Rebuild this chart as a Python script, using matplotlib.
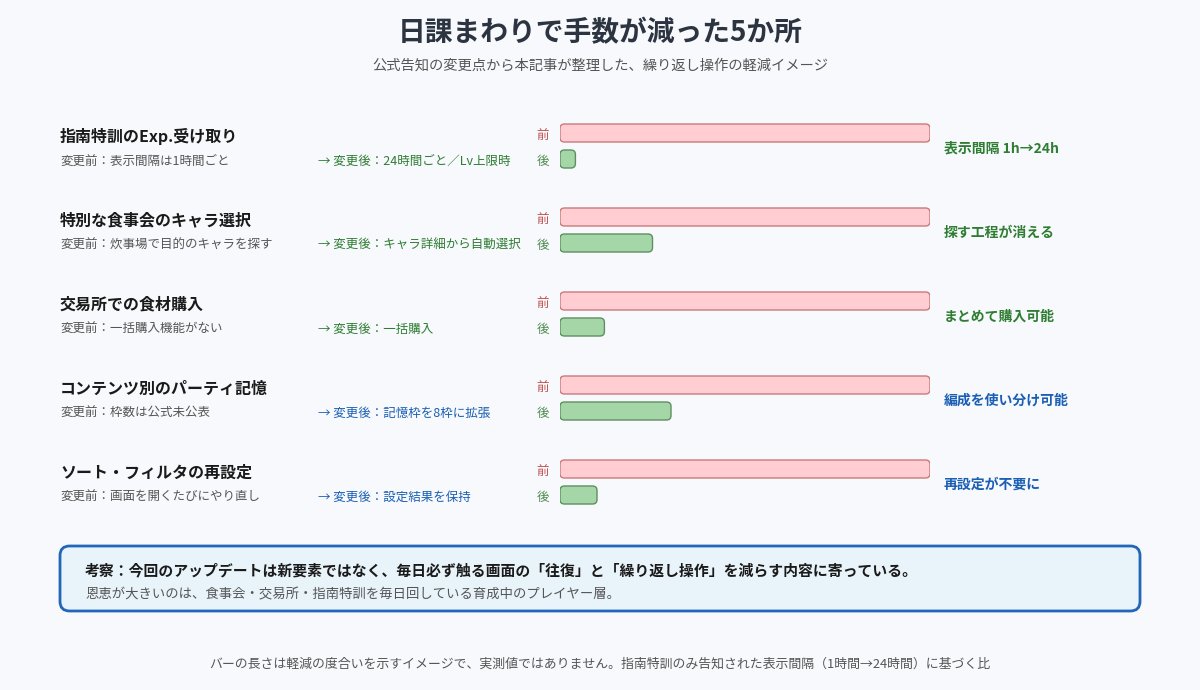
import numpy as np
import matplotlib
matplotlib.use('Agg')
import matplotlib.pyplot as plt
from matplotlib.patches import FancyBboxPatch
from matplotlib.transforms import blended_transform_factory

plt.rcParams['font.family'] = ['Noto Sans CJK JP', 'DejaVu Sans']

# ── データ ──
items = ['指南特訓のExp.受け取り', '特別な食事会のキャラ選択', '交易所での食材購入',
         'コンテンツ別のパーティ記憶', 'ソート・フィルタの再設定']
before_txt = ['変更前：表示間隔は1時間ごと', '変更前：炊事場で目的のキャラを探す',
              '変更前：一括購入機能がない', '変更前：枠数は公式未公表', '変更前：画面を開くたびにやり直し']
after_txt = ['→ 変更後：24時間ごと／Lv上限時', '→ 変更後：キャラ詳細から自動選択',
             '→ 変更後：一括購入', '→ 変更後：記憶枠を8枠に拡張', '→ 変更後：設定結果を保持']
effect = ['表示間隔 1h→24h', '探す工程が消える', 'まとめて購入可能', '編成を使い分け可能', '再設定が不要に']
kind = ['green', 'green', 'green', 'blue', 'blue']
before_val = [100, 100, 100, 100, 100]
after_val = [100 / 24, 25, 12, 30, 10]

BG = '#F7F9FC'
C_TXT = {'green': '#2E7D32', 'blue': '#1A5FB4'}

fig = plt.figure(figsize=(12, 6.9), dpi=100, facecolor=BG)
W, H = 1200, 690
# バー用の軸（x: 0-100, y: 行番号）
ax = fig.add_axes([560 / W, 1 - 520 / H, 370 / W, 410 / H])
ax.set_facecolor(BG)
ax.set_xlim(0, 100)
row0 = 146
ax.set_ylim((520 - row0) / 84, (110 - row0) / 84)
ax.axis('off')

off, bh = 13 / 84, 18 / 84
asp = (1 / 84) / (100 / 370)
for i in range(len(items)):
    for v, dy, fc, ec in [(before_val[i], -off, '#FFCDD2', '#C97B7B'),
                          (after_val[i], off, '#A5D6A7', '#5E8F60')]:
        p = FancyBboxPatch((0, i + dy - bh / 2), v, bh,
                           boxstyle='round,pad=0,rounding_size=1.2',
                           mutation_aspect=asp, fc=fc, ec=ec, lw=1.0)
        ax.add_patch(p)

tr = blended_transform_factory(fig.transFigure, ax.transData)
d = 2.5 / 84   # 文字の縦位置の微調整
for i in range(len(items)):
    ax.text(60 / W, i - off + 3.5 / 84, items[i], transform=tr, fontsize=11.5, fontweight='bold',
            color='#1A1A1A', va='center', ha='left')
    ax.text(60 / W, i + off + d, before_txt[i], transform=tr, fontsize=9, color='#555555',
            va='center', ha='left')
    ax.text(318 / W, i + off + d, after_txt[i], transform=tr, fontsize=9, color=C_TXT[kind[i]],
            va='center', ha='left')
    ax.text(549 / W, i - off + d, '前', transform=tr, fontsize=9, color='#C0504D',
            va='center', ha='right')
    ax.text(549 / W, i + off + d, '後', transform=tr, fontsize=9, color='#4F8A4F',
            va='center', ha='right')
    ax.text(944 / W, i + d, effect[i], transform=tr, fontsize=10, fontweight='bold',
            color=C_TXT[kind[i]], va='center', ha='left')

# タイトル
fig.text(0.5, 1 - 33.5 / H, '日課まわりで手数が減った5か所', ha='center', va='center',
         fontsize=20, fontweight='bold', color='#2B3440')
fig.text(0.5, 1 - 66 / H, '公式告知の変更点から本記事が整理した、繰り返し操作の軽減イメージ',
         ha='center', va='center', fontsize=10.3, color='#555555')

# 考察ボックス
box = FancyBboxPatch((60 / W, 1 - 611 / H), 1080 / W, 65 / H,
                     boxstyle='round,pad=0,rounding_size=0.008', mutation_aspect=W / H,
                     transform=fig.transFigure, fc='#E8F3FA', ec='#2166B8', lw=2)
fig.patches.append(box)
fig.text(85 / W, 1 - 570 / H,
         '考察：今回のアップデートは新要素ではなく、毎日必ず触る画面の「往復」と「繰り返し操作」を減らす内容に寄っている。',
         ha='left', va='center', fontsize=10.7, fontweight='bold', color='#1A1A1A')
fig.text(85 / W, 1 - 594 / H,
         '恩恵が大きいのは、食事会・交易所・指南特訓を毎日回している育成中のプレイヤー層。',
         ha='left', va='center', fontsize=9.6, color='#555555')

fig.text(0.5, 1 - 664 / H,
         'バーの長さは軽減の度合いを示すイメージで、実測値ではありません。指南特訓のみ告知された表示間隔（1時間→24時間）に基づく比',
         ha='center', va='center', fontsize=9.3, color='#555555')

fig.savefig('out.png', dpi=100, facecolor=BG)
